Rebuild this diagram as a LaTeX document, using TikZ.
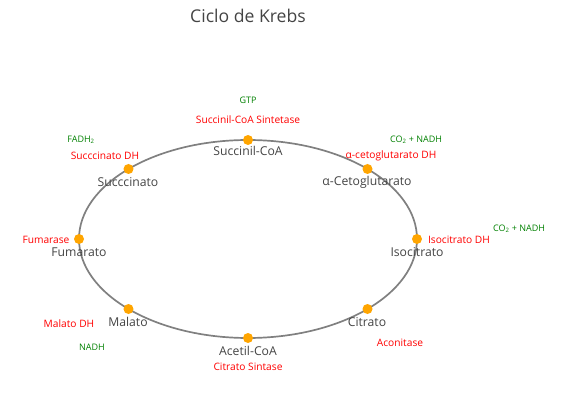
\documentclass[tikz,border=0pt]{standalone}
\usepackage{fontspec}
\setmainfont{Open Sans}
\usetikzlibrary{positioning,calc}
\definecolor{labelgray}{HTML}{444444}
\definecolor{cyclegray}{HTML}{808080}
\definecolor{markerorange}{HTML}{FFA500}
\definecolor{enzymered}{HTML}{FF0000}
\definecolor{productgreen}{HTML}{008000}

\begin{document}
\begin{tikzpicture}[x=1pt, y=-1pt,
  metab/.style={text=labelgray, font=\fontsize{12.2}{14}\selectfont, inner sep=0pt},
  enzyme/.style={text=enzymered, font=\fontsize{10.2}{12}\selectfont, inner sep=0pt},
  product/.style={text=productgreen, font=\fontsize{9}{11}\selectfont, inner sep=0pt}]
  \useasboundingbox (0,0) rectangle (568,417);
  % Title
  \node[text=labelgray, font=\fontsize{17.6}{20}\selectfont, inner sep=0pt] (title) at (248,16) {Ciclo de Krebs};
  % Cycle
  \coordinate (C) at (248,239);
  \draw[cyclegray, line width=1.7pt] (C) ellipse [x radius=169pt, y radius=99pt];
  % Markers
  \foreach \name/\ang in {succoa/90, ceto/45, isocit/0, cit/-45, acoa/-90, mal/-135, fum/180, succ/135} {
    \coordinate (\name) at ($(C)+({169*cos(\ang)},{-99*sin(\ang)})$);
    \fill[markerorange] (\name) circle (5pt);
  }
  % Metabolites
  \node[metab] (succoaL) at (248,151) {Succinil-CoA};
  \node[metab] (cetoL) at (367,182) {α-Cetoglutarato};
  \node[metab] (isocitL) at (417,252) {Isocitrato};
  \node[metab] (citL) at (367,322) {Citrato};
  \node[metab] (acoaL) at (248,351) {Acetil-CoA};
  \node[metab] (malL) at (128,322) {Malato};
  \node[metab] (fumL) at (79,252) {Fumarato};
  \node[metab] (succL) at (128,182) {Succcinato};
  % Enzymes
  \node[enzyme] (succoaE) at (248,120) {Succinil-CoA Sintetase};
  \node[enzyme] (cetoE) at (391,156) {α-cetoglutarato DH};
  \node[enzyme] (isocitE) at (459,240) {Isocitrato DH};
  \node[enzyme] (citE) at (400,343) {Aconitase};
  \node[enzyme] (acoaE) at (248,367) {Citrato Sintase};
  \node[enzyme] (malE) at (69,324) {Malato DH};
  \node[enzyme] (fumE) at (46,240) {Fumarase};
  \node[enzyme] (succE) at (105,156) {Succcinato DH};
  % Products
  \node[product] (gtp) at (248,100) {GTP};
  \node[product] (cetoP) at (416,140) {CO\textsubscript{2} + NADH};
  \node[product] (isocitP) at (519,229) {CO\textsubscript{2} + NADH};
  \node[product] (malP) at (92,347) {NADH};
  \node[product] (fadh) at (81,140) {FADH\textsubscript{2}};
\end{tikzpicture}
\end{document}
